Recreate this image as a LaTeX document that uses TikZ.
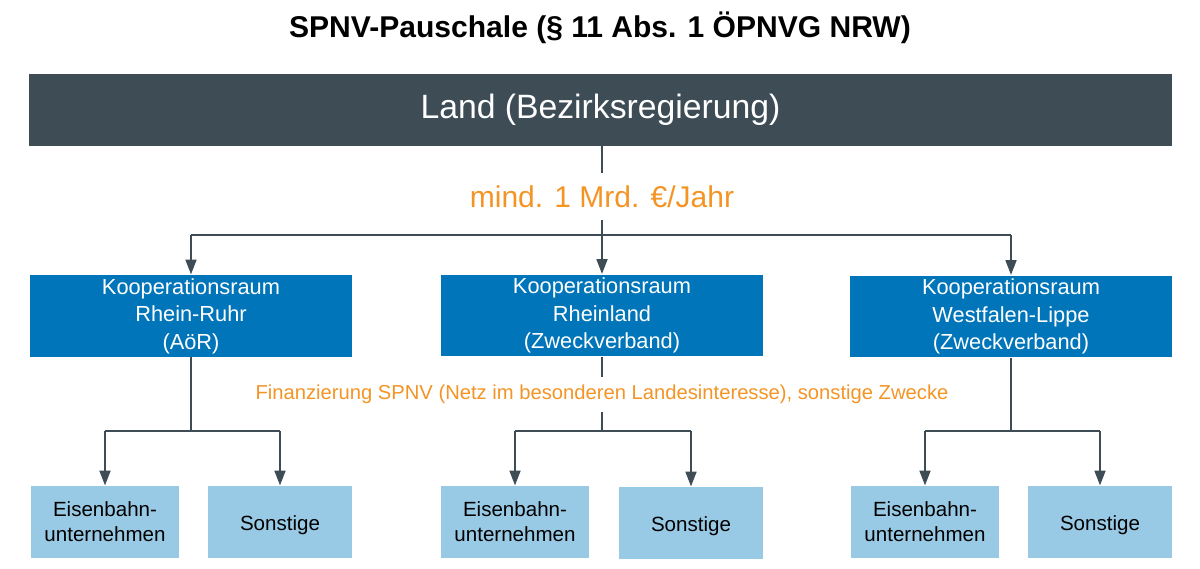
\documentclass[tikz,border=0pt]{standalone}
\usepackage{fontspec}
\setmainfont{Liberation Sans}
\usepackage{xcolor}
\usetikzlibrary{positioning, arrows.meta, calc}

\definecolor{landgrau}{HTML}{3E4C56}
\definecolor{krblau}{HTML}{0075B9}
\definecolor{hellblau}{HTML}{99CAE5}
\definecolor{geldorange}{HTML}{F39425}
\newcommand{\kopfzeile}{\rule{0pt}{12.2pt}}

\begin{document}
\begin{tikzpicture}[
  x=0.02cm, y=-0.02cm,
  every node/.style={font=\fontsize{12.4}{15.6}\selectfont},
  line/.style={line width=1.6pt, landgrau},
  arr/.style={line, -{Triangle[length=8.5pt, width=6pt]}},
  landbox/.style={fill=landgrau, text=white, minimum width=22.86cm, minimum height=1.44cm,
                  font=\fontsize{19.2}{22}\selectfont},
  krbox/.style={fill=krblau, text=white, minimum width=6.44cm, minimum height=1.64cm,
                align=center, inner sep=0pt, execute at begin node=\kopfzeile},
  subbox/.style={fill=hellblau, text=black, minimum height=1.44cm, align=center, inner sep=0pt,
                 font=\fontsize{11.7}{14.2}\selectfont, execute at begin node=\kopfzeile},
  geld/.style={text=geldorange, inner sep=0pt}
]
\useasboundingbox (0,0) rectangle (1200,568);

% ---- Title ----
\node[font=\bfseries\fontsize{17.1}{20}\selectfont] (title) at (600,28) {SPNV-Pauschale (§ 11 Abs. 1 ÖPNVG NRW)};

% ---- Land ----
\node[landbox] (land) at (600.5,110) {Land (Bezirksregierung)};

% ---- Amount ----
\node[geld, minimum height=0.94cm, font=\fontsize{17.1}{20}\selectfont] (mrd) at (602,196.5) {mind. 1 Mrd. €/Jahr};

% ---- Kooperationsraeume ----
\node[krbox] (kr1) at (191,316)   {Kooperationsraum\\Rhein-Ruhr\\(AöR)};
\node[krbox] (kr2) at (602,315.5) {Kooperationsraum\\Rheinland\\(Zweckverband)};
\node[krbox] (kr3) at (1011,316.5) {Kooperationsraum\\Westfalen-Lippe\\(Zweckverband)};

% ---- Purpose ----
\node[geld, minimum height=0.7cm, font=\fontsize{11.5}{14}\selectfont] (fin) at (602,394.5)
  {Finanzierung SPNV (Netz im besonderen Landesinteresse), sonstige Zwecke};

% ---- Recipients ----
\node[subbox, minimum width=2.96cm] (e1) at (105,522)  {Eisenbahn-\\unternehmen};
\node[subbox, minimum width=2.88cm] (s1) at (280,522)  {Sonstige};
\node[subbox, minimum width=2.96cm] (e2) at (515,522)  {Eisenbahn-\\unternehmen};
\node[subbox, minimum width=2.88cm] (s2) at (691,523)  {Sonstige};
\node[subbox, minimum width=2.96cm] (e3) at (925,522)  {Eisenbahn-\\unternehmen};
\node[subbox, minimum width=2.88cm] (s3) at (1100,522) {Sonstige};

% ---- Arrows: Land -> Kooperationsraeume ----
\coordinate (top) at (602,235);
\draw[line] (mrd.north |- land.south) -- (mrd.north);
\draw[arr] (mrd.south) -- (kr2.north);
\draw[line] (kr1.north |- top) -- (kr3.north |- top);
\foreach \k in {kr1,kr3}
  \draw[arr] (\k.north |- top) -- (\k.north);

% ---- Arrows: Kooperationsraeume -> recipients ----
\coordinate (split) at (602,431);
\draw[line] (kr1.south) -- (kr1.south |- split);
\draw[line] (kr2.south) -- (fin.north -| kr2.south);
\draw[line] (fin.south -| kr2.south) -- (kr2.south |- split);
\draw[line] (kr3.south) -- (kr3.south |- split);
\foreach \e/\s in {e1/s1, e2/s2, e3/s3}{
  \draw[line] (\e.north |- split) -- (\s.north |- split);
  \draw[arr] (\e.north |- split) -- (\e.north);
  \draw[arr] (\s.north |- split) -- (\s.north);
}

\end{tikzpicture}
\end{document}
